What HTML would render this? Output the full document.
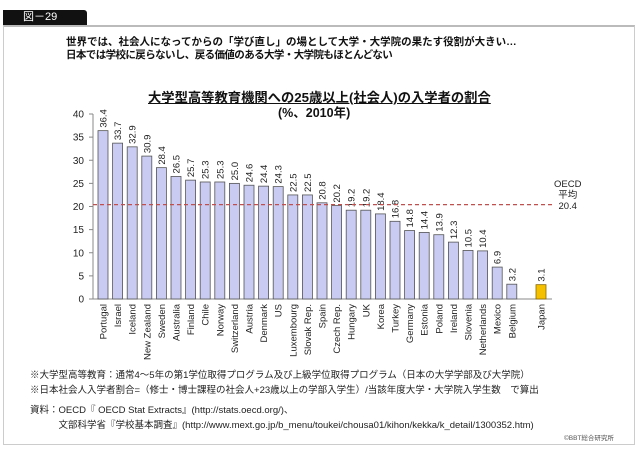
<!DOCTYPE html>
<html><head><meta charset="utf-8"><style>
body{margin:0;width:640px;height:464px;background:#fff;overflow:hidden;font-family:"Liberation Sans","Noto Sans CJK JP",sans-serif;}
.t{position:absolute;white-space:nowrap;}
</style></head><body>
<div class="t" style="left:3px;top:10px;width:84px;height:15px;background:#111;border-radius:0 3px 0 0;color:#fff;font-size:11px;line-height:15px;padding-left:20px;box-sizing:border-box;">図－29</div>
<div style="position:absolute;left:3px;top:25px;width:632px;height:420px;border:1px solid #ccc;border-top:2px solid #bbb;box-sizing:border-box;"></div>
<div class="t" style="left:66px;top:36px;font-size:10.5px;font-weight:bold;line-height:13px;color:#111;">世界では、社会人になってからの「学び直し」の場として大学・大学院の果たす役割が大きい…<br><span style="letter-spacing:-0.6px">日本では学校に戻らないし、戻る価値のある大学・大学院もほとんどない</span></div>
<div class="t" style="left:148px;top:87px;font-size:13.3px;font-weight:bold;text-decoration:underline;color:#111;">大学型高等教育機関への25歳以上(社会人)の入学者の割合</div>
<div class="t" style="left:278px;top:102px;font-size:12.5px;font-weight:bold;color:#111;">(%、2010年)</div>
<svg width="640" height="464" style="position:absolute;left:0;top:0" font-family="Liberation Sans, sans-serif">
<g id="c"></g>
</svg>
<div class="t" style="left:554px;top:179px;font-size:9.5px;line-height:11px;text-align:center;color:#222;">OECD<br>平均<br>20.4</div>
<div class="t" style="left:30px;top:368px;font-size:9.5px;line-height:15px;color:#222;">※大学型高等教育：通常4～5年の第1学位取得プログラム及び上級学位取得プログラム（日本の大学学部及び大学院）<br>※日本社会人入学者割合=（修士・博士課程の社会人+23歳以上の学部入学生）/当該年度大学・大学院入学生数　で算出</div>
<div class="t" style="left:30px;top:403px;font-size:9.5px;line-height:15px;color:#222;">資料：OECD『 OECD Stat Extracts』(http://stats.oecd.org/)、<br>　　　文部科学省『学校基本調査』(http://www.mext.go.jp/b_menu/toukei/chousa01/kihon/kekka/k_detail/1300352.htm)</div>
<div class="t" style="left:564px;top:432px;font-size:6.5px;color:#555;">©BBT総合研究所</div>
<script>
var d=[["Portugal",36.4],["Israel",33.7],["Iceland",32.9],["New Zealand",30.9],["Sweden",28.4],["Australia",26.5],["Finland",25.7],["Chile",25.3],["Norway",25.3],["Switzerland",25.0],["Austria",24.6],["Denmark",24.4],["US",24.3],["Luxembourg",22.5],["Slovak Rep.",22.5],["Spain",20.8],["Czech Rep.",20.2],["Hungary",19.2],["UK",19.2],["Korea",18.4],["Turkey",16.8],["Germany",14.8],["Estonia",14.4],["Poland",13.9],["Ireland",12.3],["Slovenia",10.5],["Netherlands",10.4],["Mexico",6.9],["Belgium",3.2],null,["Japan",3.1]];
var s='',y0=299,k=4.625;
s+='<line x1="93" y1="114" x2="93" y2="299" stroke="#888"/><line x1="93" y1="299" x2="552" y2="299" stroke="#888"/>';
for(var v=0;v<=40;v+=5){var y=y0-v*k;s+='<line x1="89" x2="93" y1="'+y+'" y2="'+y+'" stroke="#888"/><text x="84" y="'+(y+3.5)+'" font-size="10" text-anchor="end" fill="#222">'+v+'</text>';}
d.forEach(function(e,i){if(!e)return;var cx=103+i*14.6,h=e[1]*k,jp=e[0]=="Japan";
s+='<rect x="'+(cx-5)+'" y="'+(y0-h)+'" width="10" height="'+h+'" fill="'+(jp?'#f5c000':'#c9cbf2')+'" stroke="'+(jp?'#8a6a00':'#555')+'" stroke-width="0.8"/>';
s+='<text transform="translate('+(cx+3.5)+','+(y0-h-3)+') rotate(-90)" font-size="9.5" fill="#222">'+e[1].toFixed(1)+'</text>';
s+='<text transform="translate('+(cx+3.5)+',304) rotate(-90)" font-size="9.5" text-anchor="end" fill="#222">'+e[0]+'</text>';});
var yl=y0-20.4*k;s+='<line x1="93" x2="552" y1="'+yl+'" y2="'+yl+'" stroke="#c0504d" stroke-width="1.2" stroke-dasharray="4,3"/>';
document.getElementById('c').innerHTML=s;
</script>
</body></html>
